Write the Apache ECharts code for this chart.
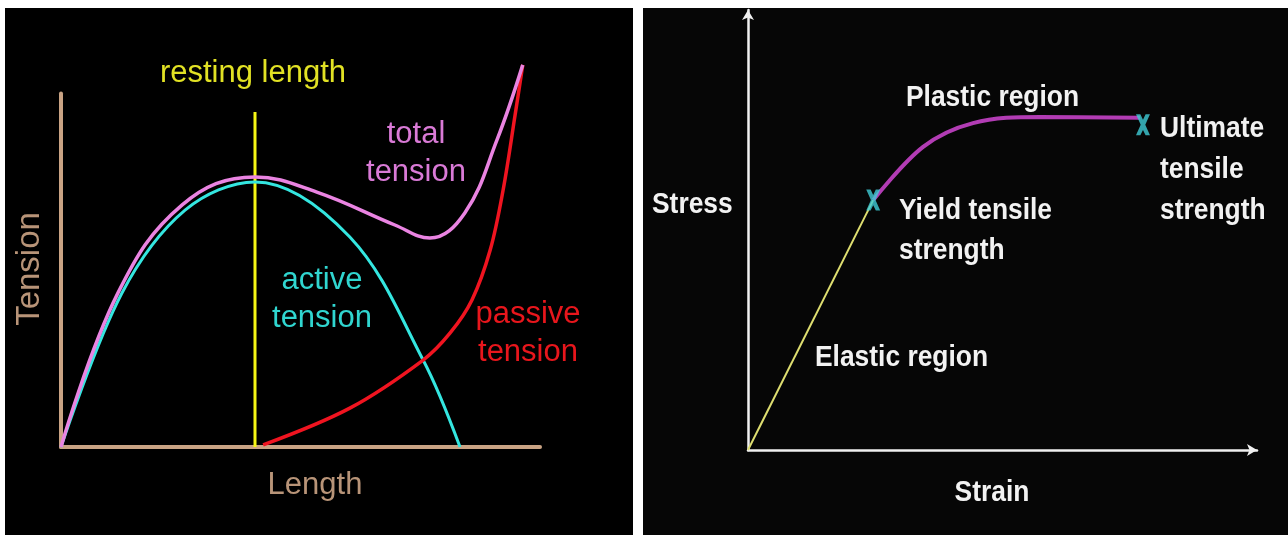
<!DOCTYPE html>
<html>
<head>
<meta charset="utf-8">
<script src="https://cdn.jsdelivr.net/npm/echarts@6/dist/echarts.min.js"></script>
<style>
  html, body { margin: 0; padding: 0; background: #ffffff; }
  #chart { width: 1288px; height: 535px; }
</style>
</head>
<body>
<div id="chart"></div>
<script>
// ---- Muscle length–tension relationship (left panel) ----
const activeLength  = [0, 12.7, 25.9, 40.5, 60.3, 75.6, 83.3];
const activeTension = [0, 43.5, 67.0, 75.0, 59.4, 24.6, 0];

const totalLength  = [0, 11.9, 25.3, 40.5, 53.4, 69.7, 77.0, 84.3, 91.0, 96.4];
const totalTension = [0, 43.6, 68.5, 76.4, 72.1, 62.8, 59.1, 66.2, 86.8, 108.1];

const passiveLength  = [42.2, 60.3, 75.6, 81.2, 85.8, 89.6, 92.3, 94.8, 96.4];
const passiveTension = [0.6, 11.0, 24.6, 32.2, 41.6, 55.7, 72.7, 93.9, 108.1];

const restingLength = 40.5;
const restingMarkTop = 94.8;

// ---- Stress–strain curve (right panel) ----
const elasticStrain = [0, 24.6];
const elasticStress = [0, 56.8];

const plasticStrain = [24.6, 34.4, 44.2, 57.4, 77.0];
const plasticStress = [56.8, 68.9, 74.3, 75.7, 75.5];

const markStrain = [24.6, 77.6];
const markStress = [56.8, 73.9];

const zip = (xs, ys) => xs.map((x, i) => [x, ys[i]]);

const LEFT_FONT = '"Liberation Sans", Arial, sans-serif';
const RIGHT_FONT = '"Liberation Sans", Arial, sans-serif';
const TAN = '#C9A384';

function txt(x, y, text, color, opts) {
  opts = opts || {};
  return {
    type: 'text', x: x, y: y, z: 50,
    rotation: opts.rotation || 0,
    scaleX: opts.scaleX || 1,
    style: {
      text: text,
      fill: color,
      font: (opts.weight || 'normal') + ' ' + (opts.size || 31) + 'px ' + (opts.family || LEFT_FONT),
      align: opts.align || 'center',
      verticalAlign: 'middle',
      lineHeight: opts.lineHeight || 38
    }
  };
}

// condensed bold white captions of the stress–strain panel
function cap(x, y, text, align, lineHeight) {
  return txt(x, y, text, '#F2F2F2', {
    align: align, weight: 'bold', size: 29, family: RIGHT_FONT,
    scaleX: 0.91, lineHeight: lineHeight || 40
  });
}

const chart = echarts.init(document.getElementById('chart'), null, { renderer: 'canvas' });

// bold condensed "X" used for the yield / ultimate strength points
const X_GLYPH = 'path://M0,0H4.4L7,5.4L9.6,0H14L9.3,10.5L14,21H9.6L7,15.6L4.4,21H0L4.7,10.5Z';

chart.setOption({
  backgroundColor: '#ffffff',
  animation: false,
  graphic: [
    { type: 'rect', z: -10, shape: { x: 5, y: 8, width: 628, height: 527 }, style: { fill: '#000000' } },
    { type: 'rect', z: -10, shape: { x: 643, y: 8, width: 645, height: 527 }, style: { fill: '#060606' } },

    txt(253, 73, 'resting length', '#E2E224'),
    txt(30, 269, 'Tension', '#B89478', { rotation: Math.PI / 2, size: 33 }),
    txt(315, 485, 'Length', '#B89478'),
    txt(416, 153, 'total\ntension', '#D97AD6'),
    txt(322, 299, 'active\ntension', '#30D6D0'),
    txt(528, 333, 'passive\ntension', '#E8161C'),

    cap(652, 205, 'Stress', 'left'),
    cap(906, 98, 'Plastic region', 'left'),
    cap(899, 231, 'Yield tensile\nstrength', 'left', 40),
    cap(1160, 170, 'Ultimate\ntensile\nstrength', 'left', 41),
    cap(815, 358, 'Elastic region', 'left'),
    cap(992, 493, 'Strain', 'center')
  ],
  grid: [
    { left: 61, top: 93.5, width: 479, height: 353.5 },
    { left: 748, top: 10, width: 509, height: 440 }
  ],
  xAxis: [
    {
      gridIndex: 0, type: 'value', min: 0, max: 100,
      axisLine: { show: true, lineStyle: { color: TAN, width: 4 } },
      axisTick: { show: false }, axisLabel: { show: false }, splitLine: { show: false }
    },
    {
      gridIndex: 1, type: 'value', min: 0, max: 100,
      axisLine: { show: true, symbol: ['none', 'arrow'], symbolSize: [9, 10], lineStyle: { color: '#F0F0F0', width: 2.5 } },
      axisTick: { show: false }, axisLabel: { show: false }, splitLine: { show: false }
    }
  ],
  yAxis: [
    {
      gridIndex: 0, type: 'value', min: 0, max: 100,
      axisLine: { show: true, lineStyle: { color: TAN, width: 4 } },
      axisTick: { show: false }, axisLabel: { show: false }, splitLine: { show: false }
    },
    {
      gridIndex: 1, type: 'value', min: 0, max: 100,
      axisLine: { show: true, symbol: ['none', 'arrow'], symbolSize: [9, 10], lineStyle: { color: '#F0F0F0', width: 2.5 } },
      axisTick: { show: false }, axisLabel: { show: false }, splitLine: { show: false }
    }
  ],
  series: [
    {
      name: 'resting length', type: 'line', xAxisIndex: 0, yAxisIndex: 0,
      data: [[restingLength, 0], [restingLength, restingMarkTop]],
      symbol: 'none', lineStyle: { color: '#F6F614', width: 3 }, z: 3
    },
    {
      name: 'active tension', type: 'line', xAxisIndex: 0, yAxisIndex: 0,
      data: zip(activeLength, activeTension), smooth: 0.35,
      symbol: 'none', lineStyle: { color: '#34E6E0', width: 3 }, z: 4
    },
    {
      name: 'total tension', type: 'line', xAxisIndex: 0, yAxisIndex: 0,
      data: zip(totalLength, totalTension), smooth: 0.4, clip: false,
      symbol: 'none', lineStyle: { color: '#EA84E2', width: 3.5 }, z: 5
    },
    {
      name: 'passive tension', type: 'line', xAxisIndex: 0, yAxisIndex: 0,
      data: zip(passiveLength, passiveTension), smooth: 0.35, clip: false,
      symbol: 'none', lineStyle: { color: '#F01420', width: 3.5 }, z: 4
    },
    {
      name: 'Elastic region', type: 'line', xAxisIndex: 1, yAxisIndex: 1,
      data: zip(elasticStrain, elasticStress),
      symbol: 'none', lineStyle: { color: '#DEDE70', width: 2 }, z: 3
    },
    {
      name: 'Plastic region', type: 'line', xAxisIndex: 1, yAxisIndex: 1,
      data: zip(plasticStrain, plasticStress), smooth: 0.35,
      symbol: 'none', lineStyle: { color: '#B23CB4', width: 4 }, z: 4
    },
    {
      name: 'strength points', type: 'scatter', xAxisIndex: 1, yAxisIndex: 1,
      data: zip(markStrain, markStress),
      symbol: X_GLYPH, symbolSize: [14, 21],
      itemStyle: { color: '#3ECCD6' }, z: 6
    }
  ]
});
</script>
</body>
</html>
